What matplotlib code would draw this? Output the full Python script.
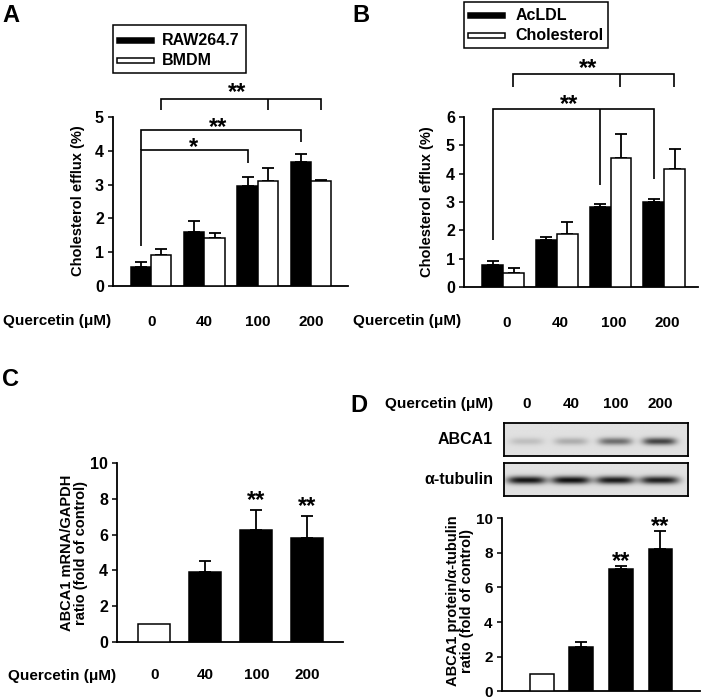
import numpy as np
import matplotlib.pyplot as plt
from matplotlib.patches import Rectangle

plt.rcParams['font.family'] = ['Liberation Sans', 'DejaVu Sans']
plt.rcParams['font.weight'] = 'bold'

W, H = 703, 700

doses = ['0', '40', '100', '200']

# Panel A: cholesterol efflux (%)
raw264 = [0.55, 1.60, 2.95, 3.68]
raw264_err = [0.17, 0.33, 0.28, 0.22]
bmdm = [0.93, 1.42, 3.12, 3.10]
bmdm_err = [0.17, 0.15, 0.38, 0.05]

# Panel B: cholesterol efflux (%)
acldl = [0.76, 1.67, 2.82, 3.00]
acldl_err = [0.14, 0.10, 0.12, 0.12]
chol = [0.49, 1.88, 4.55, 4.18]
chol_err = [0.18, 0.41, 0.84, 0.70]

# Panel C: ABCA1 mRNA / GAPDH (fold of control)
mrna = [1.0, 3.91, 6.28, 5.79]
mrna_err = [0, 0.63, 1.11, 1.27]
mrna_sig = ['', '', '**', '**']

# Panel D: ABCA1 protein / alpha-tubulin (fold of control)
protein = [1.0, 2.58, 7.08, 8.20]
protein_err = [0, 0.24, 0.17, 1.05]
protein_sig = ['', '', '**', '**']

# Western blot band darkness (0 = none, 1 = black)
abca1_band = [0.13, 0.20, 0.45, 0.62]
tubulin_band = [0.80, 0.82, 0.78, 0.76]

fig = plt.figure(figsize=(W / 100, H / 100), dpi=100)


def fx(x):
    return x / W


def fy(y):
    return 1 - y / H


def add_ax(l, t, r, b):
    return fig.add_axes([l / W, 1 - b / H, (r - l) / W, (b - t) / H])


def ftext(x, y, s, **kw):
    fig.text(fx(x), fy(y), s, **kw)


def style(ax, xlim, ylim, yticks, tsize=11.5):
    for s in ['top', 'right']:
        ax.spines[s].set_visible(False)
    for s in ['left', 'bottom']:
        ax.spines[s].set_linewidth(1.3)
    ax.set_xlim(xlim)
    ax.set_ylim(ylim)
    ax.set_yticks(yticks)
    ax.tick_params(axis='y', direction='out', length=3.5, width=1.1, labelsize=tsize, pad=3)
    ax.tick_params(axis='x', length=0, labelsize=11)


def bars(ax, x, vals, errs, width, color):
    ax.bar(x, vals, width, color=color, edgecolor='black', linewidth=1.1, zorder=3)
    ax.errorbar(x, vals, yerr=[np.zeros(len(vals)), errs], fmt='none', ecolor='black',
                elinewidth=1.3, capsize=4, capthick=1.3, zorder=2)


def line(ax, xs, ys):
    ax.plot(xs, ys, color='black', lw=1.2, clip_on=False, zorder=4,
            solid_capstyle='butt', solid_joinstyle='miter')


def star(ax, x, y, s):
    ax.annotate(s, (x, y), xytext=(0, -5), textcoords='offset points', ha='center',
                va='center', fontsize=17, annotation_clip=False)


def legend_box(box, entries):
    l, t, r, b = box
    fig.patches.append(Rectangle((fx(l), fy(b)), (r - l) / W, (b - t) / H, fill=False,
                                 edgecolor='black', lw=1.1, transform=fig.transFigure))
    for color, label, yc, hx0, hx1, tx in entries:
        fig.patches.append(Rectangle((fx(hx0), fy(yc + 2.5)), (hx1 - hx0) / W, 5 / H,
                                     facecolor=color, edgecolor='black', lw=1.1,
                                     transform=fig.transFigure))
        ftext(tx, yc, label, ha='left', va='center', fontsize=11.5)


x = np.arange(4)

# ---------------- Panel A ----------------
axA = add_ax(113, 117, 348, 286)
style(axA, (-0.72, 3.70), (0, 5), range(6))
bars(axA, x - 0.19, raw264, raw264_err, 0.38, 'black')
bars(axA, x + 0.19, bmdm, bmdm_err, 0.38, 'white')
axA.set_xticks(x)
axA.set_xticklabels(doses)
axA.tick_params(axis='x', pad=21)
line(axA, [-0.19, -0.19, 1.81, 1.81], [1.17, 4.03, 4.03, 3.64])
line(axA, [-0.19, -0.19, 2.81, 2.81], [4.03, 4.61, 4.61, 4.25])
line(axA, [0.19, 0.19, 3.19, 3.19], [5.22, 5.54, 5.54, 5.22])
line(axA, [2.19, 2.19], [5.54, 5.22])
star(axA, 0.79, 4.31, '*')
star(axA, 1.26, 4.88, '**')
star(axA, 1.62, 5.92, '**')
ftext(78, 201, 'Cholesterol efflux (%)', rotation=90, ha='center', va='center', fontsize=10.5)
ftext(3, 325, 'Quercetin (\u03bcM)', ha='left', va='baseline', fontsize=11)
ftext(2, 22, 'A', ha='left', va='baseline', fontsize=17)
legend_box((113, 25, 246, 73), [('black', 'RAW264.7', 40.8, 117, 154, 162),
                                 ('white', 'BMDM', 60.2, 117, 154, 162)])

# ---------------- Panel B ----------------
axB = add_ax(464, 117, 698, 287)
style(axB, (-0.73, 3.63), (0, 6), range(7))
bars(axB, x - 0.195, acldl, acldl_err, 0.39, 'black')
bars(axB, x + 0.195, chol, chol_err, 0.39, 'white')
axB.set_xticks(x + 0.06)
axB.set_xticklabels(doses)
axB.tick_params(axis='x', pad=21)
line(axB, [-0.19, -0.19, 2.81, 2.81], [1.66, 6.27, 6.27, 3.8])
line(axB, [1.81, 1.81], [6.27, 3.6])
line(axB, [0.19, 0.19, 3.18, 3.18], [7.05, 7.52, 7.52, 7.05])
line(axB, [2.18, 2.18], [7.52, 7.05])
star(axB, 1.23, 6.7, '**')
star(axB, 1.59, 7.95, '**')
ftext(427, 202, 'Cholesterol efflux (%)', rotation=90, ha='center', va='center', fontsize=10.5)
ftext(353, 325, 'Quercetin (\u03bcM)', ha='left', va='baseline', fontsize=11)
ftext(352, 22, 'B', ha='left', va='baseline', fontsize=17)
legend_box((464, 2, 608, 48), [('black', 'AcLDL', 15.8, 468, 505, 515.7),
                                ('white', 'Cholesterol', 35.0, 468, 505, 515.7)])

# ---------------- Panel C ----------------
axC = add_ax(117, 463, 343, 642)
style(axC, (-0.73, 3.70), (0, 10), range(0, 11, 2))
colsC = ['white', 'black', 'black', 'black']
axC.bar(x, mrna, 0.62, color=colsC, edgecolor='black', linewidth=1.1, zorder=3)
axC.errorbar(x[1:], mrna[1:], yerr=[np.zeros(3), mrna_err[1:]], fmt='none', ecolor='black',
             elinewidth=1.3, capsize=4, capthick=1.3, zorder=2)
for i, s in enumerate(mrna_sig):
    if s:
        star(axC, i, mrna[i] + mrna_err[i] + 0.9, s)
axC.set_xticks(x)
axC.set_xticklabels(doses)
axC.tick_params(axis='x', pad=19)
ftext(74, 553, 'ABCA1 mRNA/GAPDH\nratio (fold of control)', rotation=90, ha='center',
      va='center', fontsize=10.5, linespacing=1.0, multialignment='center')
ftext(8, 680, 'Quercetin (\u03bcM)', ha='left', va='baseline', fontsize=11)
ftext(2, 386, 'C', ha='left', va='baseline', fontsize=17)

# ---------------- Panel D ----------------
axD = add_ax(501.7, 518.3, 700, 691.2)
style(axD, (-1.01, 4.0), (0, 10), range(0, 11, 2), tsize=11)
axD.bar(x, protein, 0.6, color=colsC, edgecolor='black', linewidth=1.1, zorder=3)
axD.errorbar(x[1:], protein[1:], yerr=[np.zeros(3), protein_err[1:]], fmt='none',
             ecolor='black', elinewidth=1.3, capsize=4, capthick=1.3, zorder=2)
for i, s in enumerate(protein_sig):
    if s:
        star(axD, i, protein[i] + protein_err[i] + 0.65, s)
axD.set_xticks([])
ftext(460, 601, 'ABCA1 protein/\u03b1-tubulin\nratio (fold of control)', rotation=90,
      ha='center', va='center', fontsize=10.5, linespacing=1.0, multialignment='center')
ftext(350, 412, 'D', ha='left', va='baseline', fontsize=17)
ftext(385, 408, 'Quercetin (\u03bcM)', ha='left', va='baseline', fontsize=11)

# blot
lane_lim = (-0.51, 3.64)


def blot(ax, dark, yc, wx, wy):
    xs = np.linspace(lane_lim[0], lane_lim[1], 400)
    ys = np.linspace(0, 1, 80)
    X, Y = np.meshgrid(xs, ys)
    img = np.full_like(X, 0.88)
    for i, a in enumerate(dark):
        img -= a * np.exp(-np.abs((X - i) / wx) ** 4) * np.exp(-((Y - yc) / wy) ** 2)
    ax.imshow(img, cmap='gray', vmin=0, vmax=1, extent=(*lane_lim, 0, 1), origin='lower',
              aspect='auto', interpolation='bilinear')
    ax.set_xticks([])
    ax.set_yticks([])
    for s in ax.spines.values():
        s.set_linewidth(1.3)


axW1 = add_ax(504.3, 422.7, 688.3, 456)
blot(axW1, abca1_band, 0.43, 0.38, 0.11)
axW2 = add_ax(504.3, 463.3, 688.3, 495.7)
blot(axW2, tubulin_band, 0.48, 0.44, 0.12)
for i, d in enumerate(doses):
    axW1.text(i, 1 + (422.7 - 408) / 33.3, d, transform=axW1.get_xaxis_transform(),
              ha='center', va='baseline', fontsize=11, clip_on=False)
ftext(493, 439.3, 'ABCA1', ha='right', va='center', fontsize=11.5)
ftext(493, 480, '\u03b1-tubulin', ha='right', va='center', fontsize=11.5)

fig.savefig('out.png', dpi=100)
